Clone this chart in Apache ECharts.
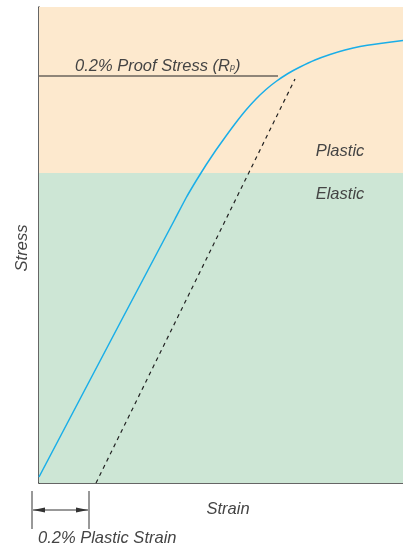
<!DOCTYPE html>
<html>
<head>
<meta charset="utf-8">
<script src="https://cdn.jsdelivr.net/npm/echarts@6/dist/echarts.min.js"></script>
<style>html,body{margin:0;padding:0;background:#fff}#c{width:403px;height:547px}</style>
</head>
<body>
<div id="c"></div>
<script>
// Data (arbitrary units: strain along x, stress along y)
var strainMax = 364;
var stressMax = 476;
var curveStrain = [0, 81, 136, 147, 157, 167, 177, 187, 197, 207, 217, 227, 237, 249, 261, 276, 291, 306, 321, 341, 364];
var curveStress = [6, 160, 264, 285, 302, 318, 333, 347, 360.5, 373, 384, 393.5, 401.5, 409.5, 416, 423, 428.5, 433, 436.5, 439.5, 442.5];
var offsetStrain = [57, 256];
var offsetStress = [0, 404];
var proofStrain = [0, 239];
var proofStress = [407, 407];
var elasticLimit = 310;

function pairs(xs, ys) { return xs.map(function (x, i) { return [x, ys[i]]; }); }

var chart = echarts.init(document.getElementById('c'));
var FONT = '"Liberation Sans", Arial, sans-serif';
var FS = 16.5;
var txt = { fontFamily: FONT, fontStyle: 'italic', fontWeight: 'normal', fontSize: FS, fill: '#444' };
function t(x, y, s, extra) {
  var st = Object.assign({}, txt, { text: s, x: x, y: y, textAlign: 'center', textVerticalAlign: 'middle' }, extra || {});
  return { type: 'text', style: st, z: 100 };
}
chart.setOption({
  animation: false,
  grid: { left: 39, right: 0, top: 7, bottom: 64 },
  xAxis: [
    { type: 'value', min: 0, max: strainMax, position: 'bottom',
      axisLine: { show: true, lineStyle: { color: '#333', width: 1.5 } },
      axisTick: { show: false }, axisLabel: { show: false }, splitLine: { show: false } },
    { type: 'value', min: 0, max: strainMax, position: 'top',
      axisLine: { show: true, lineStyle: { color: '#444', width: 1.2 } },
      axisTick: { show: false }, axisLabel: { show: false }, splitLine: { show: false } }
  ],
  yAxis: { type: 'value', min: 0, max: stressMax,
    axisLine: { show: true, lineStyle: { color: '#333', width: 1.5 } },
    axisTick: { show: false }, axisLabel: { show: false }, splitLine: { show: false } },
  series: [
    { type: 'line', data: [], silent: true,
      markArea: { silent: true, data: [
        [{ yAxis: elasticLimit, itemStyle: { color: '#FDE9CE' } }, { yAxis: stressMax }],
        [{ yAxis: 0, itemStyle: { color: '#CDE6D5' } }, { yAxis: elasticLimit }]
      ] } },
    { type: 'line', data: pairs(proofStrain, proofStress), symbol: 'none', silent: true,
      lineStyle: { color: '#222', width: 1.2 }, z: 3 },
    { type: 'line', data: pairs(offsetStrain, offsetStress), symbol: 'none', silent: true,
      lineStyle: { color: '#222', width: 1.2, type: [4, 4] }, z: 3 },
    { type: 'line', data: pairs(curveStrain, curveStress), symbol: 'none', smooth: 0.15, silent: true,
      lineStyle: { color: '#1AAEE8', width: 1.5 }, z: 4 }
  ],
  graphic: [
    { type: 'text', z: 100, style: { x: 75, y: 66, textVerticalAlign: 'middle',
      rich: {
        a: { fontFamily: FONT, fontStyle: 'italic', fontSize: FS, fill: '#444' },
        b: { fontFamily: FONT, fontStyle: 'italic', fontSize: 9, fill: '#444', padding: [3, 0, 0, 0] }
      },
      text: '{a|0.2% Proof Stress (R}{b|p}{a|)}' } },
    t(340, 151, 'Plastic'),
    t(340, 194, 'Elastic'),
    t(228, 509, 'Strain'),
    t(38, 538, '0.2% Plastic Strain', { textAlign: 'left' }),
    { type: 'text', z: 100, rotation: Math.PI / 2, x: 22, y: 248,
      style: Object.assign({}, txt, { text: 'Stress', textAlign: 'center', textVerticalAlign: 'middle' }) },
    { type: 'line', shape: { x1: 32, y1: 491, x2: 32, y2: 529 }, style: { stroke: '#333', lineWidth: 1 } },
    { type: 'line', shape: { x1: 89, y1: 491, x2: 89, y2: 529 }, style: { stroke: '#333', lineWidth: 1 } },
    { type: 'line', shape: { x1: 33, y1: 510, x2: 88, y2: 510 }, style: { stroke: '#333', lineWidth: 1 } },
    { type: 'polygon', shape: { points: [[33, 510], [45, 507.5], [45, 512.5]] }, style: { fill: '#333' } },
    { type: 'polygon', shape: { points: [[88, 510], [76, 507.5], [76, 512.5]] }, style: { fill: '#333' } }
  ]
});
</script>
</body>
</html>
